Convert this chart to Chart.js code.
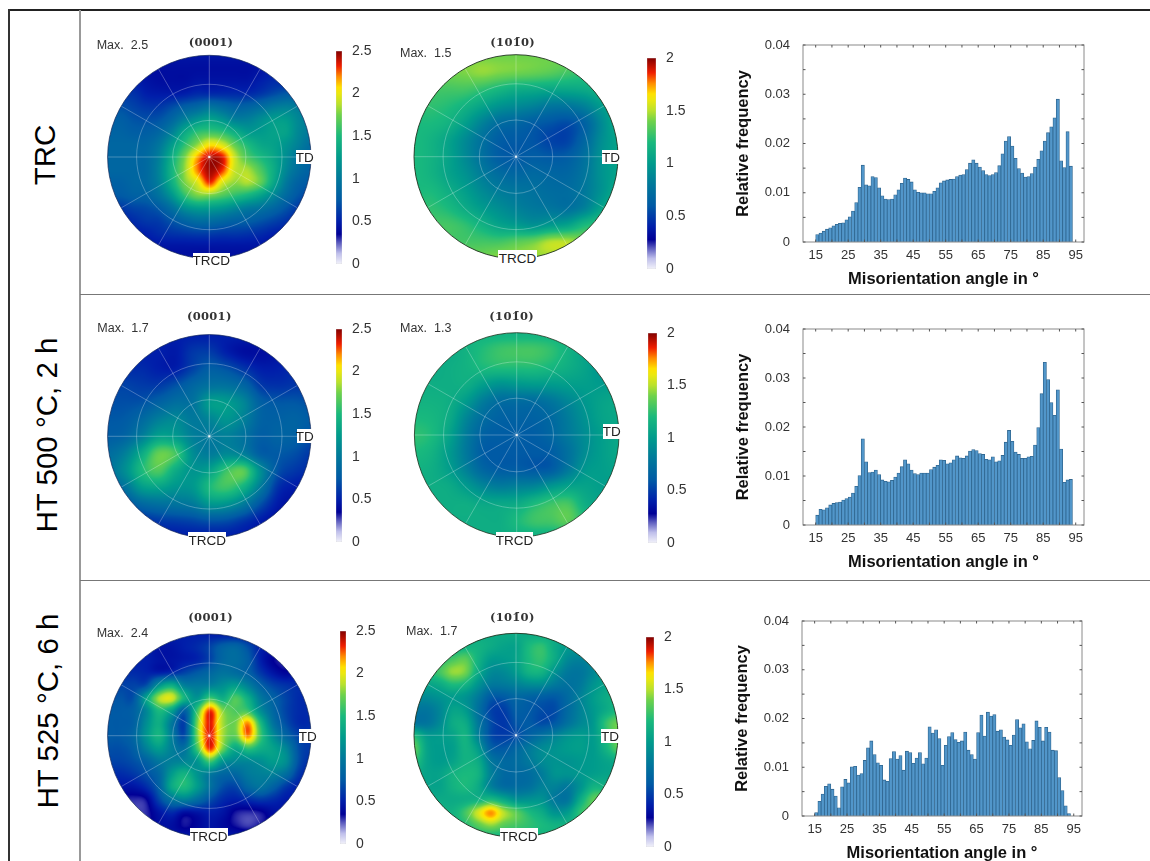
<!DOCTYPE html>
<html>
<head>
<meta charset="utf-8">
<title>Pole figures and misorientation histograms</title>
<script src="https://cdn.jsdelivr.net/npm/chart.js@4"></script>
<style>
  body { margin: 0; background: #fff; width: 1150px; height: 861px; position: relative; overflow: hidden; font-family: "Liberation Sans", Arial, sans-serif; color: #222; }
  canvas { position: absolute; }
  .line { position: absolute; }
  .txt { position: absolute; white-space: pre; transform: translate(-50%, -50%); line-height: 1; }
  .max { font-size: 12.5px; color: #333; transform: translateY(-50%); }
  .plane { font-family: "DejaVu Serif", serif; font-weight: bold; font-size: 11.5px; letter-spacing: .3px; color: #333; }
  .box { position: absolute; background: #fff; font-size: 13.5px; display: flex; align-items: center; justify-content: center; color: #222; }
  .row { font-size: 29.5px; color: #000; transform: translate(-50%, -50%) rotate(-90deg); }
</style>
</head>
<body>
<script>
// histogram bins, lower edge of each 1 degree bin
const angleBins = [15,16,17,18,19,20,21,22,23,24,25,26,27,28,29,30,31,32,33,34,35,36,37,38,39,40,41,42,43,44,45,46,47,48,49,50,51,52,53,54,55,56,57,58,59,60,61,62,63,64,65,66,67,68,69,70,71,72,73,74,75,76,77,78,79,80,81,82,83,84,85,86,87,88,89,90,91,92,93];

const freqTRC = [
  .0015,.0018,.0022,.0026,.0029,.0033,.0036,.0038,.0039,.0045,
  .0051,.0063,.0080,.0111,.0156,.0116,.0114,.0133,.0131,.0110,
  .0094,.0087,.0086,.0087,.0096,.0106,.0119,.0130,.0127,.0122,
  .0106,.0101,.0100,.0100,.0098,.0098,.0103,.0110,.0120,.0124,
  .0126,.0127,.0128,.0133,.0136,.0137,.0147,.0160,.0167,.0160,
  .0152,.0145,.0137,.0135,.0137,.0141,.0155,.0179,.0205,.0214,
  .0195,.0170,.0149,.0140,.0132,.0133,.0139,.0152,.0168,.0185,
  .0205,.0222,.0234,.0252,.0290,.0165,.0151,.0224,.0154];

const freqHT500 = [
  .0020,.0032,.0031,.0035,.0041,.0044,.0046,.0047,.0051,.0054,
  .0057,.0065,.0079,.0101,.0176,.0129,.0107,.0108,.0112,.0103,
  .0092,.0089,.0088,.0091,.0098,.0106,.0119,.0133,.0125,.0112,
  .0105,.0103,.0106,.0106,.0106,.0113,.0118,.0122,.0133,.0132,
  .0125,.0127,.0133,.0141,.0137,.0136,.0141,.0151,.0154,.0152,
  .0146,.0144,.0134,.0133,.0139,.0129,.0131,.0142,.0169,.0193,
  .0171,.0149,.0144,.0136,.0136,.0139,.0140,.0163,.0199,.0268,
  .0332,.0297,.0250,.0224,.0276,.0155,.0087,.0092,.0093];

const freqHT525 = [
  .0007,.0030,.0045,.0061,.0066,.0055,.0041,.0017,.0060,.0075,
  .0068,.0101,.0102,.0084,.0087,.0114,.0140,.0154,.0126,.0109,
  .0104,.0074,.0071,.0118,.0132,.0117,.0124,.0094,.0133,.0130,
  .0108,.0119,.0130,.0107,.0119,.0183,.0170,.0177,.0159,.0104,
  .0145,.0163,.0171,.0157,.0151,.0154,.0172,.0135,.0126,.0117,
  .0171,.0207,.0164,.0213,.0205,.0208,.0174,.0177,.0162,.0156,
  .0145,.0166,.0198,.0181,.0189,.0152,.0138,.0155,.0195,.0182,
  .0154,.0182,.0172,.0135,.0134,.0079,.0052,.0021,.0005];

const angleTicks = [15,20,25,30,35,40,45,50,55,60,65,70,75,80,85,90,95];
const angleLabels = [15,25,35,45,55,65,75,85,95];
const freqTicks = [0,.005,.01,.015,.02,.025,.03,.035,.04];
const freqLabels = { 0:'0', 0.01:'0.01', 0.02:'0.02', 0.03:'0.03', 0.04:'0.04' };

const basalTicks = [0,.5,1,1.5,2,2.5];
const prismTicks = [0,.5,1,1.5,2];
const ringRadii = [.36,.715];

// pole figure intensities, rows go top to bottom, columns left to right, both -1..1
const poleTRC0001 = [
  [.45,.45,.45,.45,.45,.45,.45,.45,.45,.45,.45,.45,.45,.45,.45,.45,.45],
  [.45,.45,.45,.42,.42,.42,.42,.42,.42,.42,.42,.42,.45,.5,.5,.5,.5],
  [.5,.5,.5,.45,.42,.42,.42,.45,.45,.45,.45,.45,.5,.55,.55,.6,.6],
  [.6,.6,.58,.5,.48,.48,.5,.55,.55,.55,.55,.55,.6,.68,.75,.75,.7],
  [.7,.7,.65,.6,.6,.68,.78,.85,.95,.88,.8,.82,.9,1,1.05,1,.9],
  [.78,.78,.72,.7,.72,.85,1.05,1.2,1.3,1.2,1.05,1.05,1.15,1.25,1.25,1.1,1],
  [.82,.82,.78,.78,.85,1.05,1.35,1.55,1.6,1.55,1.4,1.25,1.25,1.3,1.3,1.1,1],
  [.85,.85,.85,.85,.98,1.25,1.55,1.8,2.05,1.95,1.7,1.5,1.35,1.3,1.2,1.05,.9],
  [.85,.85,.85,.88,1.05,1.4,1.75,2.15,2.42,2.35,1.9,1.65,1.5,1.35,1.15,.95,.85],
  [.85,.85,.85,.88,1.08,1.45,1.8,2.2,2.45,2.3,1.9,1.85,1.65,1.4,1.1,.9,.8],
  [.8,.8,.85,.88,1.05,1.4,1.75,1.95,2.3,1.95,1.8,1.85,1.7,1.35,1,.8,.75],
  [.75,.75,.8,.82,.95,1.2,1.55,1.75,1.75,1.65,1.55,1.45,1.3,1.1,.88,.72,.65],
  [.6,.6,.65,.68,.75,.92,1.15,1.25,1.25,1.2,1.1,1,.95,.85,.72,.6,.55],
  [.5,.5,.55,.6,.62,.72,.82,.9,.9,.85,.8,.78,.72,.65,.58,.5,.5],
  [.45,.45,.48,.5,.55,.58,.6,.62,.62,.6,.6,.58,.55,.5,.48,.45,.45],
  [.42,.42,.42,.45,.45,.45,.45,.45,.45,.45,.45,.45,.45,.42,.42,.42,.42],
  [.42,.42,.42,.42,.42,.42,.42,.42,.42,.42,.42,.42,.42,.42,.42,.42,.42]];

const poleTRC1010 = [
  [1.4,1.4,1.4,1.4,1.4,1.4,1.4,1.4,1.4,1.4,1.4,1.4,1.4],
  [1.4,1.4,1.4,1.42,1.45,1.42,1.4,1.38,1.35,1.3,1.25,1.2,1.2],
  [1.3,1.3,1.3,1.3,1.25,1.18,1.12,1.1,1.08,1.08,1.1,1.15,1.15],
  [1.25,1.25,1.22,1.15,1.05,.95,.9,.85,.78,.78,.85,1,1.1],
  [1.2,1.2,1.15,1.02,.85,.72,.68,.62,.58,.55,.65,.9,1.1],
  [1.2,1.15,1.05,.9,.75,.62,.6,.58,.52,.52,.68,.92,1.05],
  [1.2,1.15,1.05,.9,.75,.62,.6,.62,.6,.62,.75,.95,1.05],
  [1.2,1.15,1.05,.95,.82,.72,.68,.7,.68,.68,.78,.95,1.05],
  [1.2,1.2,1.12,1.02,.9,.82,.78,.75,.72,.72,.8,.95,1.1],
  [1.25,1.25,1.2,1.1,1,.92,.85,.8,.78,.75,.85,1.05,1.15],
  [1.3,1.3,1.3,1.25,1.15,1.05,1,.95,1,1.05,1.2,1.25,1.25],
  [1.3,1.3,1.3,1.3,1.3,1.3,1.35,1.4,1.5,1.5,1.4,1.3,1.3],
  [1.4,1.4,1.4,1.4,1.4,1.45,1.45,1.45,1.45,1.45,1.4,1.4,1.4]];

const poleHT5000001 = [
  [.5,.5,.5,.5,.5,.5,.5,.5,.5,.5,.5,.5,.5],
  [.5,.5,.5,.5,.48,.6,.62,.5,.42,.42,.45,.5,.55],
  [.55,.55,.55,.5,.5,.65,.78,.72,.6,.5,.5,.55,.6],
  [.65,.65,.62,.62,.72,.85,.95,.95,.85,.62,.58,.6,.62],
  [.7,.7,.72,.82,.92,.95,1.25,1.25,1.1,.8,.74,.74,.7],
  [.74,.76,.88,1.05,1.12,1,1.08,1.2,1.05,.82,.8,.82,.76],
  [.78,.84,1.05,1.3,1.25,1.05,1,1.05,.95,.78,.82,.8,.7],
  [.9,1.05,1.38,1.72,1.62,1.15,1.02,1.12,1.05,.78,.75,.7,.6],
  [.95,1.15,1.5,1.65,1.38,1.2,1.3,1.6,1.68,1.15,.72,.6,.55],
  [.8,.95,1.25,1.3,1.2,1.22,1.5,1.6,1.42,1,.58,.48,.45],
  [.6,.7,.85,.92,.95,1,1.2,1.18,1,.7,.48,.42,.42],
  [.5,.5,.55,.6,.62,.65,.7,.68,.58,.48,.42,.42,.42],
  [.48,.48,.48,.48,.48,.48,.48,.48,.48,.48,.48,.48,.48]];

const poleHT5001010 = [
  [1.15,1.15,1.15,1.15,1.15,1.15,1.15,1.15,1.15,1.15,1.15,1.15,1.15],
  [1.1,1.1,1.1,1.15,1.22,1.28,1.3,1.3,1.25,1.15,1.05,.95,.95],
  [1.1,1.1,1.12,1.15,1.2,1.22,1.22,1.22,1.18,1.12,1.05,.95,.95],
  [1.12,1.12,1.12,1.12,1.02,.95,.98,1,1,1.02,1.02,1,1.02],
  [1.15,1.15,1.12,1,.82,.72,.72,.72,.78,.88,.98,1.05,1.08],
  [1.2,1.18,1.1,.88,.72,.65,.65,.65,.7,.82,.95,1.05,1.08],
  [1.25,1.2,1.05,.82,.65,.62,.62,.62,.68,.8,.92,1.02,1.08],
  [1.2,1.15,1,.8,.62,.6,.6,.6,.62,.75,.92,1.02,1.08],
  [1.15,1.12,1.02,.85,.68,.62,.62,.6,.62,.8,.98,1.02,1.05],
  [1.12,1.12,1.1,1,.88,.82,.85,.88,.98,1.05,1.05,1.02,1.02],
  [1.12,1.12,1.12,1.12,1.08,1.08,1.1,1.2,1.28,1.3,1.12,1.05,1.02],
  [1.12,1.12,1.12,1.12,1.12,1.12,1.2,1.28,1.3,1.35,1.2,1.1,1.05],
  [1.12,1.12,1.12,1.12,1.12,1.12,1.12,1.12,1.12,1.12,1.12,1.12,1.12]];

const poleHT5250001 = [
  [.5,.5,.5,.5,.5,.5,.5,.5,.5,.5,.5,.5,.5,.5,.5,.5,.5],
  [.5,.5,.5,.5,.45,.45,.5,.55,.65,.8,.85,.7,.5,.45,.4,.4,.4],
  [.5,.5,.5,.5,.45,.45,.48,.52,.65,.85,.9,.78,.5,.35,.3,.32,.4],
  [.55,.55,.55,.52,.5,.55,.65,.75,.85,.95,.9,.8,.6,.45,.37,.45,.5],
  [.65,.65,.65,.7,1.2,1.4,1.05,1,1.05,1.15,1.25,1.05,.8,.65,.58,.55,.55],
  [.72,.72,.72,1.3,1.85,1.95,1.45,1.2,1.6,1.4,1.65,1.4,1,.8,.65,.55,.55],
  [.75,.75,.8,1.1,1.5,1.3,.8,1.6,2.3,1.8,1.65,1.6,1.15,.85,.65,.55,.55],
  [.75,.75,.8,1.15,1.4,1,.65,1.75,2.35,1.85,1.75,2.2,1.5,.95,.7,.55,.55],
  [.75,.75,.85,1.2,1.45,1.05,.7,1.75,2.35,1.85,1.7,2.2,1.6,1.15,.85,.65,.6],
  [.7,.7,.78,1.05,1.25,1.05,.95,1.6,2.3,1.75,1.35,1.55,1.4,1.3,1.1,.7,.6],
  [.65,.65,.7,.8,.98,1.05,1.1,1.2,1.6,1.2,1.1,1.1,1.15,1.25,1.15,.7,.55],
  [.55,.55,.6,.7,.85,1.25,1.45,1.2,1,.85,.85,1,1.05,1.05,.9,.6,.5],
  [.45,.45,.45,.55,.8,1.35,1.5,1.25,.95,.7,.65,.85,.95,.8,.6,.5,.5],
  [.33,.33,.3,.34,.65,.95,1.05,.9,.7,.55,.5,.55,.6,.55,.48,.5,.5],
  [.33,.33,.28,.3,.45,.55,.42,.45,.5,.45,.33,.3,.33,.42,.45,.48,.5],
  [.42,.42,.34,.33,.42,.42,.33,.38,.45,.4,.33,.28,.33,.4,.45,.48,.5],
  [.48,.48,.48,.48,.48,.48,.48,.48,.48,.48,.48,.48,.48,.48,.48,.48,.48]];

const poleHT5251010 = [
  [1.1,1.1,1.1,1.1,1.1,1.1,1.1,1.1,1.1,1.1,1.1,1.1,1.1,1.1,1.1,1.1,1.1],
  [1.1,1.1,1.1,1.1,1.15,1.15,1.1,1.05,1.05,1.2,1.25,1.1,1,1,1,1,1],
  [1.2,1.2,1.2,1.3,1.35,1.15,1,1,1.05,1.2,1.25,1.1,.9,.85,.9,1,1],
  [1.2,1.2,1.3,1.45,1.4,1.1,.9,.9,1,1.15,1.15,.95,.8,.78,.88,1,1],
  [1.05,1.05,1.1,1.2,1.15,.95,.8,.8,.85,.9,.9,.8,.75,.8,.95,1.05,1.05],
  [.9,.9,.95,1,.95,.8,.6,.6,.68,.65,.62,.6,.7,.85,1,1.1,1.15],
  [.78,.78,.88,1.05,1,.75,.52,.5,.62,.6,.55,.55,.7,.85,.98,1.1,1.2],
  [.78,.78,.9,1.1,1.1,.8,.55,.48,.58,.6,.55,.6,.75,.88,.98,1.25,1.4],
  [1.2,1,1,1.05,1.15,.85,.55,.5,.55,.65,.75,.85,.95,1,1,1.2,1.4],
  [1.35,1.05,1,1.02,1.15,1,.65,.6,.68,.8,.9,.95,1,1.02,1,1.15,1.35],
  [1.25,1.05,1,1.05,1.15,1.1,.8,.7,.72,.8,.9,.95,.95,.98,1,1.05,1.1],
  [1.1,1.05,1.05,1.15,1.2,1.15,.85,.7,.7,.72,.82,.95,.95,.98,1.02,1.05,1.05],
  [1.05,1.05,1.05,1.15,1.2,1.1,.85,.72,.72,.75,.85,.85,.8,.95,1.15,1.15,1.1],
  [1.1,1.1,1.1,1.1,1.12,1.15,1.2,1.08,.95,.95,.95,.8,.78,1.1,1.35,1.35,1.2],
  [1.15,1.15,1.15,1.15,1.3,1.55,1.75,1.5,1.35,1.2,1.1,.95,1,1.25,1.3,1.2,1.15],
  [1.15,1.15,1.15,1.15,1.22,1.35,1.45,1.35,1.3,1.25,1.2,1.15,1.15,1.15,1.15,1.15,1.15],
  [1.15,1.15,1.15,1.15,1.15,1.15,1.15,1.15,1.15,1.15,1.15,1.15,1.15,1.15,1.15,1.15,1.15]];

// colour map of the pole figures: position in the range, then r g b
const mapStops = [
  [0,242,242,250],[.05,190,190,235],[.1,90,90,190],[.14,0,0,150],[.2,0,30,170],[.3,0,90,165],
  [.4,0,120,155],[.5,0,155,140],[.6,25,185,125],[.7,110,210,75],[.75,185,225,45],[.8,235,232,15],[.83,255,225,0],
  [.88,255,140,0],[.93,240,30,0],[1,130,0,0]];

function mapColor(t) {
  t = Math.min(1, Math.max(0, t));
  for (let i = 1; i < mapStops.length; i++) {
    const a = mapStops[i - 1], b = mapStops[i];
    if (t <= b[0]) {
      const k = (t - a[0]) / (b[0] - a[0]);
      return [a[1] + (b[1] - a[1]) * k, a[2] + (b[2] - a[2]) * k, a[3] + (b[3] - a[3]) * k];
    }
  }
  return mapStops[mapStops.length - 1].slice(1);
}

function addEl(cls, text, left, top, extra) {
  const d = document.createElement('div');
  d.className = cls;
  d.textContent = text;
  d.style.left = left + 'px';
  d.style.top = top + 'px';
  Object.assign(d.style, extra || {});
  document.body.appendChild(d);
  return d;
}

function addLine(x, y, w, h, color) {
  addEl('line', '', x, y, { width: w + 'px', height: h + 'px', background: color });
}

function addCanvas(x, y, w, h) {
  const c = document.createElement('canvas');
  c.width = w; c.height = h;
  c.style.left = x + 'px';
  c.style.top = y + 'px';
  c.style.zIndex = 1;
  document.body.appendChild(c);
  return c;
}

// tick labels must not push the plot area in
function noLabelPadding(s) {
  s.paddingTop = s.paddingBottom = s.paddingLeft = s.paddingRight = 0;
}

// catmull-rom so the cell grid comes out smooth
function cubic(a, b, c, d, t) {
  return b + .5 * t * (c - a + t * (2 * a - 5 * b + 4 * c - d + t * (3 * (b - c) + d - a)));
}

function sampleRows(rows, x, y) {
  const n = rows[0].length, m = rows.length;
  const gx = (x + 1) / 2 * (n - 1), gy = (1 - y) / 2 * (m - 1);
  const j = Math.min(n - 2, Math.max(0, Math.floor(gx))), i = Math.min(m - 2, Math.max(0, Math.floor(gy)));
  const cl = (v, hi) => Math.min(hi, Math.max(0, v));
  const line = r => cubic(rows[r][cl(j - 1, n - 1)], rows[r][j], rows[r][j + 1], rows[r][cl(j + 2, n - 1)], gx - j);
  return cubic(line(cl(i - 1, m - 1)), line(i), line(i + 1), line(cl(i + 2, m - 1)), gy - i);
}

// draws the pole figure from the dataset cells through the x and y scales
const poleMapPlugin = {
  id: 'poleMap',
  beforeDatasetsDraw(chart, args, opts) {
    const { ctx, scales: { x, y }, chartArea: a } = chart;
    const w = Math.ceil(a.right - a.left), h = Math.ceil(a.bottom - a.top);
    const off = document.createElement('canvas');
    off.width = w; off.height = h;
    const oc = off.getContext('2d');
    const img = oc.createImageData(w, h);
    for (let py = 0; py < h; py++) {
      for (let px = 0; px < w; px++) {
        const vx = x.getValueForPixel(a.left + px), vy = y.getValueForPixel(a.top + py);
        if (vx * vx + vy * vy > 1.03) continue;
        const col = mapColor(sampleRows(opts.rows, vx, vy) / opts.range);
        const k = (py * w + px) * 4;
        img.data[k] = col[0]; img.data[k + 1] = col[1]; img.data[k + 2] = col[2]; img.data[k + 3] = 255;
      }
    }
    oc.putImageData(img, 0, 0);

    const cx = x.getPixelForValue(0), cy = y.getPixelForValue(0), r = x.getPixelForValue(1) - cx;
    ctx.save();
    ctx.beginPath();
    ctx.arc(cx, cy, r, 0, Math.PI * 2);
    ctx.clip();
    ctx.drawImage(off, a.left, a.top);
    ctx.strokeStyle = 'rgba(255,255,255,.27)';
    ctx.lineWidth = 1;
    ringRadii.forEach(q => {
      ctx.beginPath();
      ctx.arc(cx, cy, q * r, 0, Math.PI * 2);
      ctx.stroke();
    });
    for (let d = 0; d < 180; d += 30) {
      const dx = Math.cos(d * Math.PI / 180) * r, dy = Math.sin(d * Math.PI / 180) * r;
      ctx.beginPath();
      ctx.moveTo(cx - dx, cy - dy);
      ctx.lineTo(cx + dx, cy + dy);
      ctx.stroke();
    }
    ctx.fillStyle = 'rgba(255,255,255,.75)';
    ctx.fillRect(cx - 1, cy - 1, 2, 2);
    ctx.restore();
    ctx.strokeStyle = opts.edge;
    ctx.lineWidth = 1;
    ctx.beginPath();
    ctx.arc(cx, cy, r, 0, Math.PI * 2);
    ctx.stroke();
  }
};

function drawPole(p) {
  const side = Math.round(p.r * 2.4), left = Math.round(p.cx - side / 2), top = Math.round(p.cy - side / 2);
  const cells = [];
  p.rows.forEach((row, i) => row.forEach((v, j) => {
    cells.push({ x: -1 + 2 * j / (row.length - 1), y: 1 - 2 * i / (p.rows.length - 1), v: v });
  }));
  new Chart(addCanvas(left, top, side, side), {
    type: 'scatter',
    plugins: [poleMapPlugin],
    data: { datasets: [{ data: cells, pointRadius: 0 }] },
    options: {
      responsive: false,
      animation: false,
      layout: { padding: 0 },
      scales: {
        x: { display: false, type: 'linear', min: (left - p.cx) / p.r, max: (left + side - p.cx) / p.r },
        y: { display: false, type: 'linear', min: (p.cy - top - side) / p.r, max: (p.cy - top) / p.r }
      },
      plugins: {
        legend: { display: false },
        tooltip: { enabled: false },
        poleMap: { rows: p.rows, range: p.range, edge: p.edge }
      }
    }
  });
}

function drawColorBar(b) {
  new Chart(addCanvas(b.x, b.y - 10, b.w + 50, b.h + 20), {
    type: 'bar',
    data: {
      labels: ['c'],
      datasets: [{
        data: [[0, b.ticks[b.ticks.length - 1]]],
        barPercentage: 1,
        categoryPercentage: 1,
        borderWidth: .5,
        borderColor: 'rgba(0,0,0,.2)',
        borderSkipped: false,
        backgroundColor(ctx) {
          const area = ctx.chart.chartArea;
          if (!area) return '#888';
          const g = ctx.chart.ctx.createLinearGradient(0, area.bottom, 0, area.top);
          mapStops.forEach(s => g.addColorStop(s[0], 'rgb(' + s[1] + ',' + s[2] + ',' + s[3] + ')'));
          return g;
        }
      }]
    },
    options: {
      responsive: false,
      animation: false,
      layout: { padding: { top: 10, bottom: 10 } },
      scales: {
        x: { display: false },
        y: {
          position: 'right',
          min: 0,
          max: b.ticks[b.ticks.length - 1],
          grid: { display: false, drawTicks: false },
          border: { display: false },
          afterBuildTicks(s) { s.ticks = b.ticks.map(v => ({ value: v })); },
          afterFit(s) { s.width = 50; noLabelPadding(s); },
          ticks: {
            padding: 10,
            color: '#333',
            font: { family: 'Liberation Sans', size: 14 },
            callback: v => String(v)
          }
        }
      },
      plugins: { legend: { display: false }, tooltip: { enabled: false } }
    }
  });
}

// inward tick marks and the frame of the histogram axes
const frameTicksPlugin = {
  id: 'frameTicks',
  afterDatasetsDraw(chart) {
    const { ctx, scales: { x, y }, chartArea: a } = chart;
    ctx.save();
    ctx.strokeStyle = '#8a8a8a';
    ctx.lineWidth = 1;
    ctx.strokeRect(a.left, a.top, a.right - a.left, a.bottom - a.top);
    ctx.strokeStyle = '#555';
    ctx.beginPath();
    angleTicks.forEach(v => {
      const px = x.getPixelForValue(v);
      ctx.moveTo(px, a.top); ctx.lineTo(px, a.top + 2.5);
      ctx.moveTo(px, a.bottom); ctx.lineTo(px, a.bottom - 2.5);
    });
    freqTicks.forEach(v => {
      const py = y.getPixelForValue(v);
      ctx.moveTo(a.left, py); ctx.lineTo(a.left + 2.5, py);
      ctx.moveTo(a.right, py); ctx.lineTo(a.right - 2.5, py);
    });
    ctx.stroke();
    ctx.restore();
  }
};

function drawHistogram(h) {
  const padLeft = 69, padRight = 8, padTop = 8, padBottom = 47;
  const cv = addCanvas(h.left - padLeft, h.top - padTop, h.right - h.left + padLeft + padRight, h.bottom - h.top + padTop + padBottom);
  new Chart(cv, {
    type: 'bar',
    plugins: [frameTicksPlugin],
    data: {
      datasets: [{
        data: angleBins.map((a, i) => ({ x: a + .5, y: h.values[i] })),
        backgroundColor: '#5196ca',
        borderColor: '#2f6690',
        borderWidth: .8,
        barPercentage: 1,
        categoryPercentage: 1
      }]
    },
    options: {
      responsive: false,
      animation: false,
      layout: { padding: { top: padTop, right: padRight } },
      scales: {
        x: {
          type: 'linear',
          offset: false,
          min: 11.1,
          max: 97.55,
          grid: { display: false, drawTicks: false },
          border: { display: false },
          afterBuildTicks(s) { s.ticks = angleTicks.map(v => ({ value: v })); },
          afterFit(s) { s.height = padBottom; noLabelPadding(s); },
          ticks: {
            autoSkip: false,
            maxRotation: 0,
            padding: 6,
            color: '#333',
            font: { family: 'Liberation Sans', size: 13 },
            callback: v => angleLabels.includes(v) ? String(v) : ''
          },
          title: {
            display: true,
            text: 'Misorientation angle in °',
            color: '#111',
            padding: { top: 0, bottom: 0 },
            font: { family: 'Liberation Sans', size: 16.5, weight: 'bold' }
          }
        },
        y: {
          min: 0,
          max: .04,
          grid: { display: false, drawTicks: false },
          border: { display: false },
          afterBuildTicks(s) { s.ticks = freqTicks.map(v => ({ value: v })); },
          afterFit(s) { s.width = padLeft; noLabelPadding(s); },
          ticks: {
            autoSkip: false,
            padding: 13,
            color: '#333',
            font: { family: 'Liberation Sans', size: 13 },
            callback: v => freqLabels[v] || ''
          },
          title: {
            display: true,
            text: 'Relative frequency',
            color: '#111',
            padding: { top: 0, bottom: 0 },
            font: { family: 'Liberation Sans', size: 16.5, weight: 'bold' }
          }
        }
      },
      plugins: { legend: { display: false }, tooltip: { enabled: false } }
    }
  });
}

// table frame
addLine(8, 9, 1142, 2, '#222');
addLine(8, 9, 2, 852, '#333');
addLine(79, 10, 2, 851, '#999');
addLine(80, 294, 1070, 1, '#777');
addLine(80, 580, 1070, 1, '#777');

addEl('txt row', 'TRC', 45, 155);
addEl('txt row', 'HT 500 °C, 2 h', 47, 435);
addEl('txt row', 'HT 525 °C, 6 h', 48, 711);

const basalTitle = '(0001)', prismTitle = '(101\u03040)';

const panels = [
  { rows: poleTRC0001, range: 2.5, ticks: basalTicks, cx: 209.3, cy: 157, r: 101.7, edge: 'rgba(20,40,90,.7)', bar: [336, 50.7, 6, 213.3], maxTxt: 'Max.  2.5', maxAt: [96.7, 45], title: basalTitle, titleAt: [211, 42.7], td: [296, 150, 17.3, 14], trcd: [192.7, 252.7, 37.3, 15.5] },
  { rows: poleTRC1010, range: 2, ticks: prismTicks, cx: 516, cy: 156.7, r: 102, edge: 'rgba(30,50,30,.9)', bar: [647, 58.3, 9, 211], maxTxt: 'Max.  1.5', maxAt: [400, 53], title: prismTitle, titleAt: [512.7, 43], td: [602, 150, 18, 14], trcd: [498, 250, 39, 16.5] },
  { rows: poleHT5000001, range: 2.5, ticks: basalTicks, cx: 209.3, cy: 436.3, r: 101.7, edge: 'rgba(20,40,90,.7)', bar: [336, 329, 6, 213.3], maxTxt: 'Max.  1.7', maxAt: [97.3, 327.7], title: basalTitle, titleAt: [209.3, 317.3], td: [296.7, 429, 16, 14.3], trcd: [188.3, 532.3, 37.7, 16] },
  { rows: poleHT5001010, range: 2, ticks: prismTicks, cx: 516.7, cy: 435, r: 102.3, edge: 'rgba(30,50,30,.8)', bar: [648, 333.3, 9, 210], maxTxt: 'Max.  1.3', maxAt: [400, 328], title: prismTitle, titleAt: [511.7, 317], td: [603.3, 424.3, 16.7, 14.7], trcd: [496, 532, 37, 16] },
  { rows: poleHT5250001, range: 2.5, ticks: basalTicks, cx: 209.3, cy: 735.7, r: 101.7, edge: 'rgba(20,40,90,.7)', bar: [339.5, 630.7, 6, 213.3], maxTxt: 'Max.  2.4', maxAt: [96.7, 632.7], title: basalTitle, titleAt: [210.7, 618.3], td: [299.3, 729.3, 16.7, 14], trcd: [190, 828.3, 37.7, 16] },
  { rows: poleHT5251010, range: 2, ticks: prismTicks, cx: 516, cy: 735.3, r: 102, edge: 'rgba(30,50,30,.9)', bar: [645.5, 637.3, 8.7, 210.4], maxTxt: 'Max.  1.7', maxAt: [406, 630.7], title: prismTitle, titleAt: [512.3, 618.3], td: [601, 729.3, 18, 14], trcd: [500, 828, 37.7, 16] }
];

panels.forEach(p => {
  drawPole(p);
  drawColorBar({ x: p.bar[0], y: p.bar[1], w: p.bar[2], h: p.bar[3], ticks: p.ticks });
  addEl('txt max', p.maxTxt, p.maxAt[0], p.maxAt[1], { zIndex: 2 });
  addEl('txt plane', p.title, p.titleAt[0], p.titleAt[1], { zIndex: 2 });
  addEl('box', 'TD', p.td[0], p.td[1], { width: p.td[2] + 'px', height: p.td[3] + 'px', zIndex: 2 });
  addEl('box', 'TRCD', p.trcd[0], p.trcd[1], { width: p.trcd[2] + 'px', height: p.trcd[3] + 'px', zIndex: 2 });
});

drawHistogram({ values: freqTRC, left: 802.5, right: 1083.5, top: 45, bottom: 242 });
drawHistogram({ values: freqHT500, left: 802.5, right: 1083.5, top: 329, bottom: 525 });
drawHistogram({ values: freqHT525, left: 801.5, right: 1081.5, top: 621, bottom: 816 });
</script>
</body>
</html>
